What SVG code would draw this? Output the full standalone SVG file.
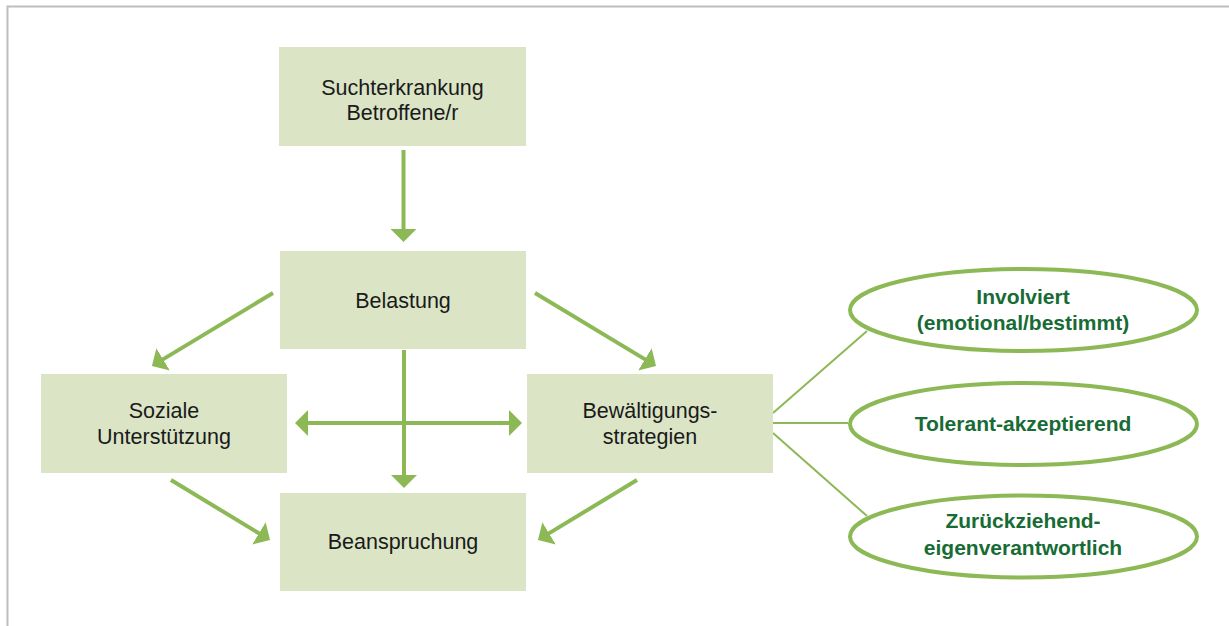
<svg xmlns="http://www.w3.org/2000/svg" width="1229" height="626" viewBox="0 0 1229 626">
<style>
.box{fill:#dbe5c6}
.bt{font-family:"Liberation Sans",Arial,sans-serif;font-size:21.5px;fill:#1a1a1a;text-anchor:middle}
.et{font-family:"Liberation Sans",Arial,sans-serif;font-size:21px;font-weight:bold;fill:#176b35;text-anchor:middle}
.ell{fill:#fff;stroke:#8cb955;stroke-width:4}
.arr{stroke:#8cb955;stroke-width:4;fill:none}
.thin{stroke:#8cb955;stroke-width:2;fill:none}
.frame{stroke:#bdbdbd;stroke-width:2;fill:none}
</style>
<defs>
<marker id="ah" viewBox="0 0 13 26" refX="7" refY="13" markerWidth="13" markerHeight="26" markerUnits="userSpaceOnUse" orient="auto-start-reverse">
<path d="M0,0 L13,13 L0,26 Z" fill="#8cb955"/>
</marker>
</defs>
<rect width="1229" height="626" fill="#fff"/>
<path class="frame" d="M7.5,626 V6.5 H1229"/>
<g id="connectors">
<line class="arr" x1="403.5" y1="150" x2="403.5" y2="236" marker-end="url(#ah)"/>
<line class="arr" x1="404" y1="350" x2="404" y2="482" marker-end="url(#ah)"/>
<line class="arr" x1="301" y1="423" x2="516" y2="423" marker-start="url(#ah)" marker-end="url(#ah)"/>
<line class="arr" x1="273" y1="293" x2="157.1" y2="362.9" marker-end="url(#ah)"/>
<line class="arr" x1="535" y1="293" x2="650.9" y2="362.9" marker-end="url(#ah)"/>
<line class="arr" x1="171" y1="480" x2="264.9" y2="536.9" marker-end="url(#ah)"/>
<line class="arr" x1="637" y1="480" x2="543.1" y2="536.9" marker-end="url(#ah)"/>
<line class="thin" x1="773" y1="413" x2="867" y2="331"/>
<line class="thin" x1="773" y1="423" x2="848" y2="423"/>
<line class="thin" x1="773" y1="433" x2="867" y2="516"/>
</g>
<g id="sucht"><rect class="box" x="279" y="47" width="247" height="99"/><text class="bt" x="402.5" y="95">Suchterkrankung</text><text class="bt" x="402.5" y="120">Betroffene/r</text></g>
<g id="belastung"><rect class="box" x="280" y="251" width="246" height="98"/><text class="bt" x="403" y="308">Belastung</text></g>
<g id="soziale"><rect class="box" x="41" y="374" width="246" height="99"/><text class="bt" x="164" y="418">Soziale</text><text class="bt" x="164" y="444">Unterstützung</text></g>
<g id="bewaeltigung"><rect class="box" x="527" y="374" width="246" height="99"/><text class="bt" x="650" y="418">Bewältigungs-</text><text class="bt" x="650" y="444">strategien</text></g>
<g id="beanspruchung"><rect class="box" x="280" y="493" width="246" height="98"/><text class="bt" x="403" y="549">Beanspruchung</text></g>
<g id="involviert"><ellipse class="ell" cx="1023.5" cy="310" rx="173.5" ry="41"/><text class="et" x="1023" y="304">Involviert</text><text class="et" x="1023" y="330">(emotional/bestimmt)</text></g>
<g id="tolerant"><ellipse class="ell" cx="1023.5" cy="424" rx="173.5" ry="41"/><text class="et" x="1023" y="431">Tolerant-akzeptierend</text></g>
<g id="zurueck"><ellipse class="ell" cx="1023.5" cy="536.5" rx="173.5" ry="41"/><text class="et" x="1023" y="528">Zurückziehend-</text><text class="et" x="1023" y="555">eigenverantwortlich</text></g>
</svg>
